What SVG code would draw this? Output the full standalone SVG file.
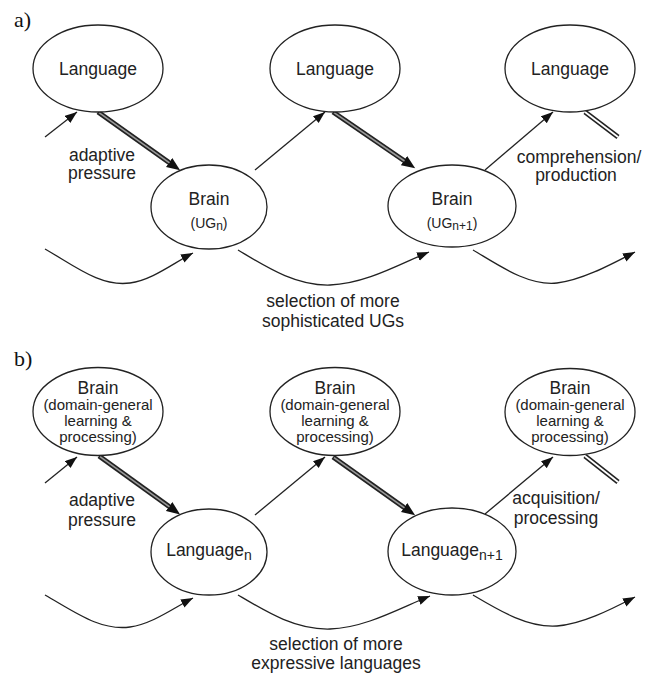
<svg xmlns="http://www.w3.org/2000/svg" width="647" height="673" viewBox="0 0 647 673">
<style>
.n{fill:#fff;stroke:#222;stroke-width:1.3}
.t{font-family:"Liberation Sans",Arial,sans-serif;font-size:17.5px;fill:#222;text-anchor:middle}
.s{font-size:15px}
.lab{font-family:"Liberation Serif","Times New Roman",serif;font-size:22px;fill:#111}
.c{fill:none;stroke:#222;stroke-width:1.3}
.d{fill:none;stroke:#222;stroke-width:5}
.di{fill:none;stroke:#999;stroke-width:1.6}
</style>
<defs>
<marker id="ah" markerUnits="userSpaceOnUse" markerWidth="13" markerHeight="10" viewBox="0 0 13 10" refX="12" refY="4.5" orient="auto"><path d="M0,0 L12,4.5 L0,9 z" fill="#111"/></marker>
<marker id="ahd" markerUnits="userSpaceOnUse" markerWidth="14" markerHeight="12" viewBox="0 0 14 12" refX="6" refY="5.5" orient="auto"><path d="M0,0 L13.5,5.5 L0,11 z" fill="#111"/></marker>
</defs>
<rect width="647" height="673" fill="#fff"/>
<text class="lab" x="14" y="27">a)</text>
<text class="lab" x="14" y="366">b)</text>

<g id="connectors">
<!-- panel a -->
<path class="c" d="M45,137 L77,112" marker-end="url(#ah)"/>
<path class="d" d="M98,112 L174,166" marker-end="url(#ahd)"/>
<path class="di" d="M99,112.7 L169.5,162.8"/>
<path class="c" d="M255,170 L325,112" marker-end="url(#ah)"/>
<path class="d" d="M333,112 L409,164" marker-end="url(#ahd)"/>
<path class="di" d="M334,112.7 L404.5,161"/>
<path class="c" d="M485,170 L553,112" marker-end="url(#ah)"/>
<path class="d" d="M585,112 L618,137"/>
<path fill="none" stroke="#fff" stroke-width="1.8" d="M585,112 L618,137"/>
<path class="c" d="M45,249 C75,266 100,287 130,283 C152,280 172,264 193,253" marker-end="url(#ah)"/>
<path class="c" d="M238,250 C265,266 295,286 330,285 C365,284 400,264 429,252" marker-end="url(#ah)"/>
<path class="c" d="M473,250 C500,266 528,286 557,283 C582,280 610,265 635,252" marker-end="url(#ah)"/>
<!-- panel b -->
<path class="c" d="M45,483 L77,457" marker-end="url(#ah)"/>
<path class="d" d="M99,456 L174,510" marker-end="url(#ahd)"/>
<path class="di" d="M100,456.7 L169.5,506.8"/>
<path class="c" d="M255,515 L325,457" marker-end="url(#ah)"/>
<path class="d" d="M333,457 L409,511" marker-end="url(#ahd)"/>
<path class="di" d="M334,457.7 L404.5,507.8"/>
<path class="c" d="M485,514 L553,457" marker-end="url(#ah)"/>
<path class="d" d="M585,456 L618,482"/>
<path fill="none" stroke="#fff" stroke-width="1.8" d="M585,456 L618,482"/>
<path class="c" d="M45,595 C75,612 100,631 130,627 C152,624 172,609 193,598" marker-end="url(#ah)"/>
<path class="c" d="M238,595 C265,611 295,630 330,629 C365,628 400,608 430,596" marker-end="url(#ah)"/>
<path class="c" d="M473,595 C500,611 528,628 557,626 C582,624 610,610 635,597" marker-end="url(#ah)"/>
</g>

<!-- panel a nodes -->
<g id="a-lang1"><ellipse class="n" cx="98" cy="68.5" rx="65" ry="43.5"/><text class="t" x="98" y="75">Language</text></g>
<g id="a-lang2"><ellipse class="n" cx="335" cy="68.5" rx="65" ry="43.5"/><text class="t" x="335" y="75">Language</text></g>
<g id="a-lang3"><ellipse class="n" cx="570" cy="68.5" rx="65" ry="43.5"/><text class="t" x="570" y="75">Language</text></g>
<g id="a-brain1"><ellipse class="n" cx="209" cy="207" rx="58" ry="42"/><text class="t" x="209" y="205">Brain</text><text class="t" x="209" y="228" style="font-size:14px">(UG<tspan font-size="12" dy="2">n</tspan><tspan dy="-2">)</tspan></text></g>
<g id="a-brain2"><ellipse class="n" cx="452" cy="206" rx="64" ry="41"/><text class="t" x="452" y="205">Brain</text><text class="t" x="452" y="228" style="font-size:14px">(UG<tspan font-size="12" dy="2">n+1</tspan><tspan dy="-2">)</tspan></text></g>

<g id="a-labels">
<text class="t" x="102" y="161">adaptive</text>
<text class="t" x="102" y="179">pressure</text>
<text class="t" x="579" y="163">comprehension/</text>
<text class="t" x="576" y="181">production</text>
<text class="t" x="333" y="307">selection of more</text>
<text class="t" x="333" y="327">sophisticated UGs</text>
</g>

<!-- panel b nodes -->
<g id="b-brain1"><ellipse class="n" cx="98" cy="411.5" rx="65" ry="44"/><text class="t" x="98" y="394">Brain</text><text class="t s" x="98" y="410">(domain-general</text><text class="t s" x="98" y="426">learning &amp;</text><text class="t s" x="98" y="442">processing)</text></g>
<g id="b-brain2"><ellipse class="n" cx="335" cy="411.5" rx="65" ry="44"/><text class="t" x="335" y="394">Brain</text><text class="t s" x="335" y="410">(domain-general</text><text class="t s" x="335" y="426">learning &amp;</text><text class="t s" x="335" y="442">processing)</text></g>
<g id="b-brain3"><ellipse class="n" cx="570" cy="412" rx="65" ry="43.5"/><text class="t" x="570" y="394">Brain</text><text class="t s" x="570" y="410">(domain-general</text><text class="t s" x="570" y="426">learning &amp;</text><text class="t s" x="570" y="442">processing)</text></g>
<g id="b-lang1"><ellipse class="n" cx="209" cy="552" rx="58" ry="43"/><text class="t" x="209" y="556">Language<tspan font-size="14" dy="4">n</tspan></text></g>
<g id="b-lang2"><ellipse class="n" cx="452" cy="551.5" rx="64" ry="43.5"/><text class="t" x="452" y="556">Language<tspan font-size="14" dy="4">n+1</tspan></text></g>

<g id="b-labels">
<text class="t" x="102" y="506">adaptive</text>
<text class="t" x="102" y="526">pressure</text>
<text class="t" x="556" y="504">acquisition/</text>
<text class="t" x="556" y="524">processing</text>
<text class="t" x="336" y="650">selection of more</text>
<text class="t" x="336" y="669">expressive languages</text>
</g>
</svg>
